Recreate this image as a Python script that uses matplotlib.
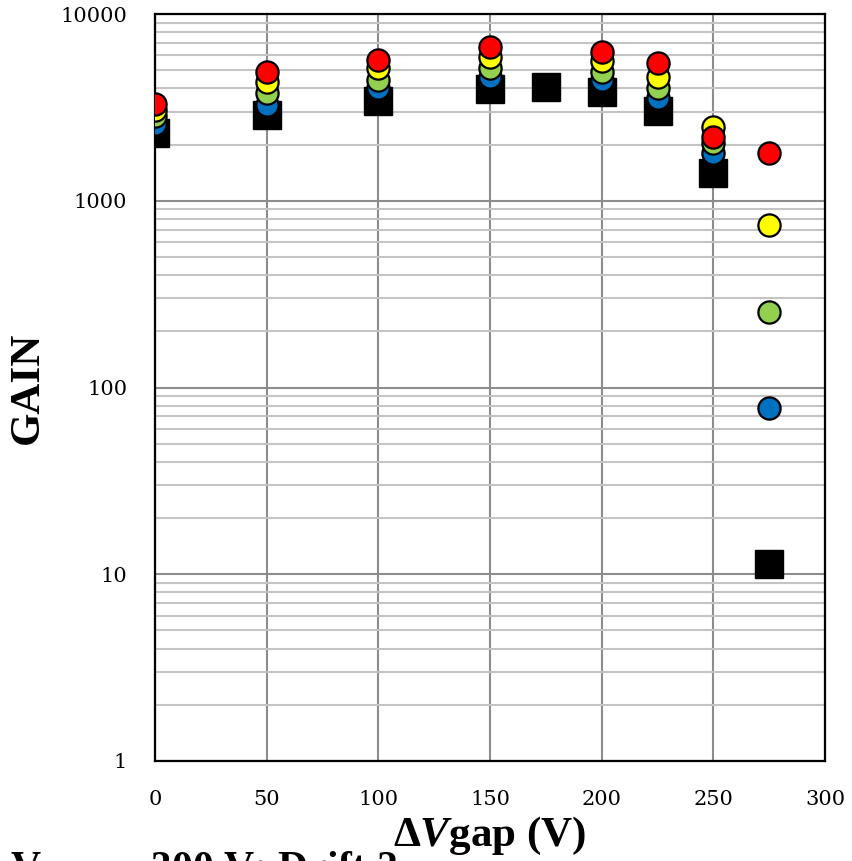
import matplotlib.pyplot as plt
from matplotlib.ticker import LogLocator, FixedLocator, NullFormatter

plt.rcParams["mathtext.fontset"] = "custom"
plt.rcParams["mathtext.it"] = "Liberation Serif:italic:bold"
plt.rcParams["mathtext.rm"] = "Liberation Serif:bold"

# gap voltage values (V)
vgap = [0, 50, 100, 150, 200, 225, 250, 275]
gain_blue = [2576, 3260, 4018, 4600, 4434, 3550, 1803, 78]
gain_green = [2846, 3777, 4438, 5140, 4887, 4020, 2038, 254]
gain_yellow = [3060, 4325, 5140, 5888, 5598, 4600, 2485, 741]
gain_red = [3296, 4891, 5672, 6656, 6266, 5470, 2195, 1803]

vgap_sq = [0, 50, 100, 150, 175, 200, 225, 250, 275]
gain_sq = [2306, 2878, 3420, 3966, 4064, 3820, 3027, 1410, 11.3]

series = [
    (gain_blue, "#0070C0"),
    (gain_green, "#92D050"),
    (gain_yellow, "#FFFF00"),
    (gain_red, "#FF0000"),
]

fig = plt.figure(figsize=(8.52, 8.61), dpi=100)
ax = fig.add_axes([155 / 852, 100 / 861, 670 / 852, 747 / 861])

ax.plot(vgap_sq, gain_sq, linestyle="none", marker="s", markersize=20,
        color="black", zorder=3)
for vals, col in series:
    ax.plot(vgap, vals, linestyle="none", marker="o", markersize=16,
            markerfacecolor=col, markeredgecolor="black", markeredgewidth=1.6,
            zorder=4)

ax.set_yscale("log")
ax.set_ylim(1, 10000)
ax.set_xlim(0, 300)
ax.xaxis.set_major_locator(FixedLocator([0, 50, 100, 150, 200, 250, 300]))
ax.yaxis.set_major_locator(FixedLocator([1, 10, 100, 1000, 10000]))
ax.yaxis.set_minor_locator(LogLocator(base=10, subs=range(2, 10)))
ax.yaxis.set_minor_formatter(NullFormatter())
ax.set_yticklabels(["1", "10", "100", "1000", "10000"])

ax.grid(True, which="major", axis="both", color="#8c8c8c", linewidth=1.5)
ax.grid(True, which="minor", axis="y", color="#c4c4c4", linewidth=1.5)
ax.set_axisbelow(True)
ax.tick_params(axis="x", which="both", length=0, pad=21)
ax.tick_params(axis="y", which="both", length=0, pad=20)
for lab in ax.get_xticklabels() + ax.get_yticklabels():
    lab.set_family("DejaVu Serif")
    lab.set_fontsize(15)
for sp in ax.spines.values():
    sp.set_linewidth(1.6)
    sp.set_color("black")

ax.set_ylabel("GAIN", family="Liberation Serif", fontweight="bold",
              fontsize=31, va="center")
ax.yaxis.set_label_coords(-0.19, 0.5)
ax.set_xlabel("Δ$\\it{V}$gap (V)", family="Liberation Serif",
              fontweight="bold", fontsize=31, va="center")
ax.xaxis.set_label_coords(0.5, -0.1)

fig.text(10 / 852, 12 / 861, r"V$_{\rm mesh}$ = 300 V; Drift 2",
         family="Liberation Serif", fontweight="bold", fontsize=30,
         va="top", ha="left")

fig.savefig("out.png", dpi=100)
